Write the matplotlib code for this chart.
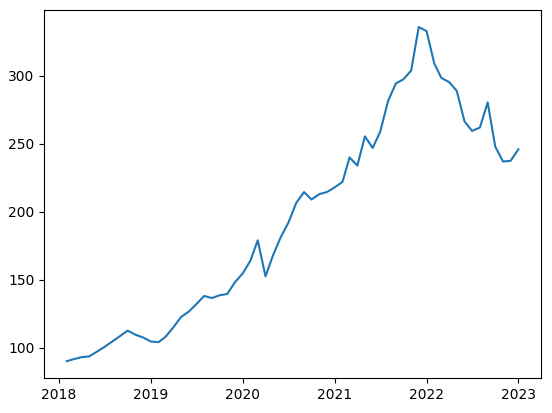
import matplotlib
matplotlib.use("Agg")
import matplotlib.pyplot as plt
import matplotlib.dates as mdates
import numpy as np
import pandas as pd

dates = pd.date_range("2018-02-01", "2023-01-01", freq="MS")
values = [90, 91.5, 93, 93.5, 97, 100.5, 104.5, 108.5, 112.5, 109.5, 107.5,
          104.5, 104, 108, 115, 122.5, 126.5, 132, 138, 136.5, 138.5, 139.5, 148,
          154.5, 164, 179, 152.5, 168, 181.5, 192, 206.5, 214.5, 209, 213, 214.5,
          218, 222, 240, 234, 255.5, 247, 259, 281.5, 294.5, 297.5, 304, 336,
          333, 309, 298.5, 295.5, 289, 266.5, 259.5, 262, 280.5, 248, 237, 237.5,
          246]

fig, ax = plt.subplots(figsize=(5.52, 4.13), dpi=100)
ax.plot(dates, values, color="#1f77b4")
ax.xaxis.set_major_locator(mdates.YearLocator())
ax.xaxis.set_major_formatter(mdates.DateFormatter("%Y"))
fig.subplots_adjust(left=0.08, right=0.98, top=0.975, bottom=0.085)
fig.savefig("out.png")
